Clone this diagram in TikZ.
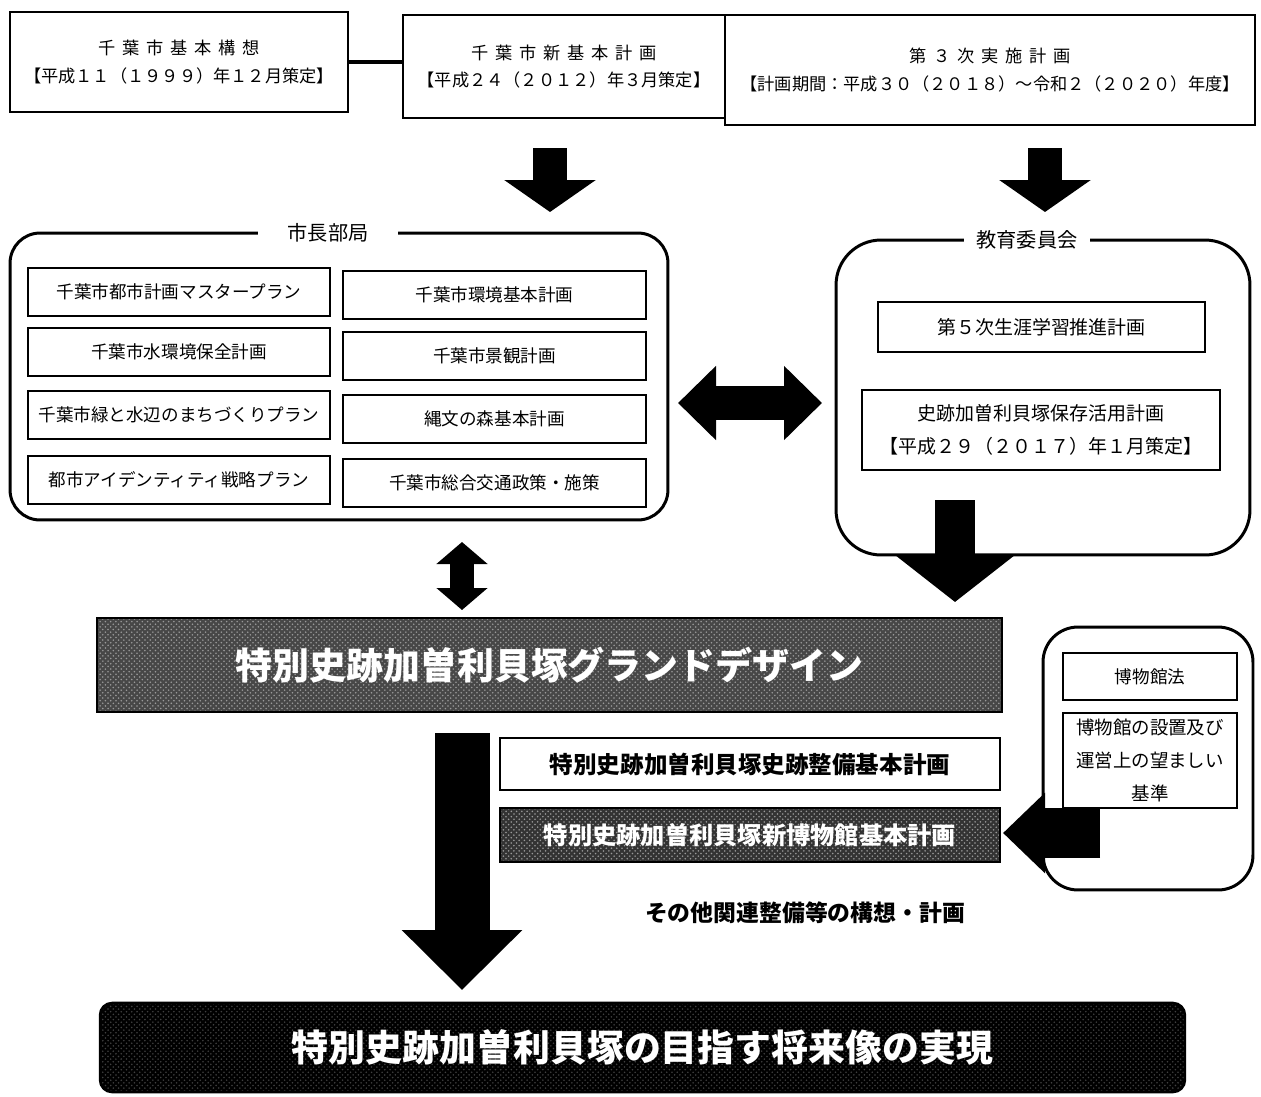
\documentclass[tikz,border=0pt]{standalone}
\usepackage{fontspec}
\setmainfont{Noto Sans CJK JP}
\newfontfamily\jpwide[LetterSpace=40]{Noto Sans CJK JP}
\usetikzlibrary{arrows.meta,positioning,patterns}

\begin{document}
\begin{tikzpicture}[x=0.02cm,y=-0.02cm,
    plan/.style={rectangle,draw,line width=1.3pt,inner sep=0pt,align=center,font=\fontsize{9.8pt}{15.5pt}\selectfont},
    box/.style={rectangle,draw,line width=1.1pt,minimum width=#1,minimum height=0.96cm,inner sep=0pt,align=center,font=\fontsize{10pt}{13pt}\selectfont},
    grp/.style={rectangle,draw,rounded corners=#1,line width=1.7pt,inner sep=0pt},
    ttl/.style={fill=white,inner ysep=1pt,font=\fontsize{11.5pt}{13pt}\selectfont},
    dark/.style={rectangle,draw,line width=1.5pt,preaction={fill=#1},pattern=crosshatch dots,pattern color=black!40,inner sep=0pt,text=white,font=\bfseries},
    barr/.style args={#1/#2/#3}{line width=#1,-{Triangle[length=#3,width=#2]}},
    dbarr/.style args={#1/#2/#3}{line width=#1,{Triangle[length=#3,width=#2]}-{Triangle[length=#3,width=#2]}},
]
\useasboundingbox (0,0) rectangle (1261,1096);

\node[plan,minimum width=6.76cm,minimum height=2cm] (kihon) at (179,62) {{\jpwide 千葉市基本構想}\\【平成１１（１９９９）年１２月策定】};
\node[plan,minimum width=6.44cm,minimum height=2.06cm] (shin) at (564,66.5) {{\jpwide 千葉市新基本計画}\\【平成２４（２０１２）年３月策定】};
\node[plan,minimum width=10.6cm,minimum height=2.2cm] (jisshi) at (990,70) {{\jpwide 第３次実施計画}\\【計画期間：平成３０（２０１８）～令和２（２０２０）年度】};
\draw[line width=1.8pt] (kihon.east) -- (kihon.east -| shin.west);

\node[grp=0.6cm,minimum width=13.16cm,minimum height=5.74cm] (mayor) at (339,376.5) {};
\node[ttl,inner xsep=17pt] (mtitle) at (328,233) {市長部局};
\node[box=6.04cm] (m1) at (179,292) {千葉市都市計画マスタープラン};
\node[box=6.04cm] (m2) at (179,352) {千葉市水環境保全計画};
\node[box=6.04cm] (m3) at (179,415) {千葉市緑と水辺のまちづくりプラン};
\node[box=6.04cm] (m4) at (179,480) {都市アイデンティティ戦略プラン};
\node[box=6.06cm] (m5) at (494.5,295) {千葉市環境基本計画};
\node[box=6.06cm] (m6) at (494.5,356) {千葉市景観計画};
\node[box=6.06cm] (m7) at (494.5,419) {縄文の森基本計画};
\node[box=6.06cm] (m8) at (494.5,483) {千葉市総合交通政策・施策};

\node[grp=0.9cm,minimum width=8.28cm,minimum height=6.3cm] (edu) at (1043,397.5) {};
\node[ttl,inner xsep=7pt] (etitle) at (1027,240) {教育委員会};
\node[box=6.54cm,minimum height=1cm,font=\fontsize{10.8pt}{13pt}\selectfont] (shogai) at (1041.5,327) {第５次生涯学習推進計画};
\node[box=7.16cm,minimum height=1.6cm,font=\fontsize{10.8pt}{19pt}\selectfont] (hozon) at (1041,430) {史跡加曽利貝塚保存活用計画\\【平成２９（２０１７）年１月策定】};

\node[dark=black!72,minimum width=18.1cm,minimum height=1.88cm,font=\bfseries\fontsize{21pt}{24pt}\selectfont] (grand) at (549.5,665) {特別史跡加曽利貝塚グランドデザイン};

\node[grp=0.7cm,minimum width=4.2cm,minimum height=5.26cm] (museum) at (1148,758.5) {};
\node[box=3.48cm,minimum height=0.94cm] (hoh) at (1150,676.5) {博物館法};
\node[box=3.48cm,minimum height=1.9cm,font=\fontsize{10.5pt}{19pt}\selectfont] (kijun) at (1150,760.5) {博物館の設置及び\\運営上の望ましい\\基準};

\node[box=10cm,minimum height=1.04cm,font=\bfseries\fontsize{13.4pt}{15pt}\selectfont] (seibi) at (750,764) {特別史跡加曽利貝塚史跡整備基本計画};
\node[dark=black!80,minimum width=10cm,minimum height=1.08cm,font=\bfseries\fontsize{13.8pt}{15pt}\selectfont] (shinhaku) at (750,835) {特別史跡加曽利貝塚新博物館基本計画};
\node[font=\bfseries\fontsize{13pt}{15pt}\selectfont] (sonota) at (805,913) {その他関連整備等の構想・計画};

\node[dark=black,pattern color=black!75,rounded corners=0.24cm,minimum width=21.7cm,minimum height=1.78cm,font=\bfseries\fontsize{21pt}{24pt}\selectfont] (goal) at (642.5,1047.5) {特別史跡加曽利貝塚の目指す将来像の実現};

\coordinate (a1s) at (550,148); \coordinate (a1e) at (550,212);
\coordinate (a2s) at (1045,148); \coordinate (a2e) at (1045,212);
\coordinate (hs) at (678,403); \coordinate (he) at (822,403);
\coordinate (vs) at (462,542); \coordinate (ve) at (462,610);
\coordinate (es) at (955,500); \coordinate (ee) at (955,602);
\coordinate (ds) at (462,733); \coordinate (de) at (462,990);
\coordinate (ls) at (1100,833); \coordinate (le) at (1003,833);

\draw[barr=0.68cm/1.8cm/0.64cm] (a1s) -- (a1e);
\draw[barr=0.68cm/1.8cm/0.64cm] (a2s) -- (a2e);
\draw[dbarr=0.68cm/1.44cm/0.76cm] (hs) -- (he);
\draw[dbarr=0.48cm/1cm/0.44cm] (vs) -- (ve);
\draw[barr=0.8cm/2.4cm/0.96cm] (es) -- (ee);
\draw[barr=1.1cm/2.34cm/1.2cm] (ds) -- (de);
\draw[barr=1cm/1.56cm/0.84cm] (ls) -- (le);
\end{tikzpicture}
\end{document}
